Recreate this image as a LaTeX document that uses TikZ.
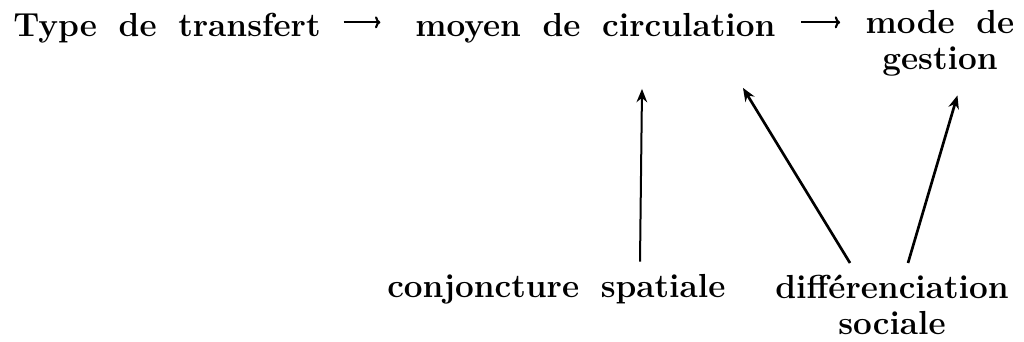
\documentclass[tikz,border=0pt]{standalone}
\usetikzlibrary{arrows.meta}

\newcommand{\lblfont}{\fontsize{25}{30}\selectfont\bfseries\spaceskip=0.65em\relax}

\tikzset{
  txt/.style={inner sep=0pt, align=center, font=\lblfont},
  flow/.style={-{To[length=4pt,width=9pt]}, line width=1.6pt},
  infl/.style={-{Stealth[length=10pt,width=8pt]}, line width=2pt},
}

\begin{document}
\begin{tikzpicture}[x=0.75pt, y=0.75pt]
  \useasboundingbox (0,0) rectangle (1024,342);

  % chaine du haut
  \node[txt, anchor=base west] (transfert) at (13,305) {Type de transfert};
  \node[txt, anchor=base west] (moyen) at (415,305) {moyen de circulation};
  \node[txt, anchor=north] (gestion) at (940,332) {mode de\\[-3pt] gestion};

  % facteurs
  \node[txt, anchor=base west] (conj) at (387,44) {conjoncture spatiale};
  \node[txt, anchor=north] (diff) at (892,67) {différenciation\\[-3pt] sociale};

  \coordinate (g1) at (gestion.west |- moyen.base east);

  \draw[flow, shorten <=17pt, shorten >=26pt] ([yshift=11pt]transfert.base east) -- ([yshift=11pt]moyen.base west);
  \draw[flow, shorten <=19pt, shorten >=19pt] ([yshift=11pt]moyen.base east) -- ([yshift=11pt]g1);

  \draw[infl, line width=1.5pt] ([shift={(253,13)}]conj.north west) -- ([shift={(227,-45)}]moyen.south west);
  \draw[infl] ([shift={(75,12)}]diff.north west) -- ([shift={(328,-44)}]moyen.south west);
  \draw[infl] ([shift={(133,12)}]diff.north west) -- ([shift={(92,-19)}]gestion.south west);
\end{tikzpicture}
\end{document}
